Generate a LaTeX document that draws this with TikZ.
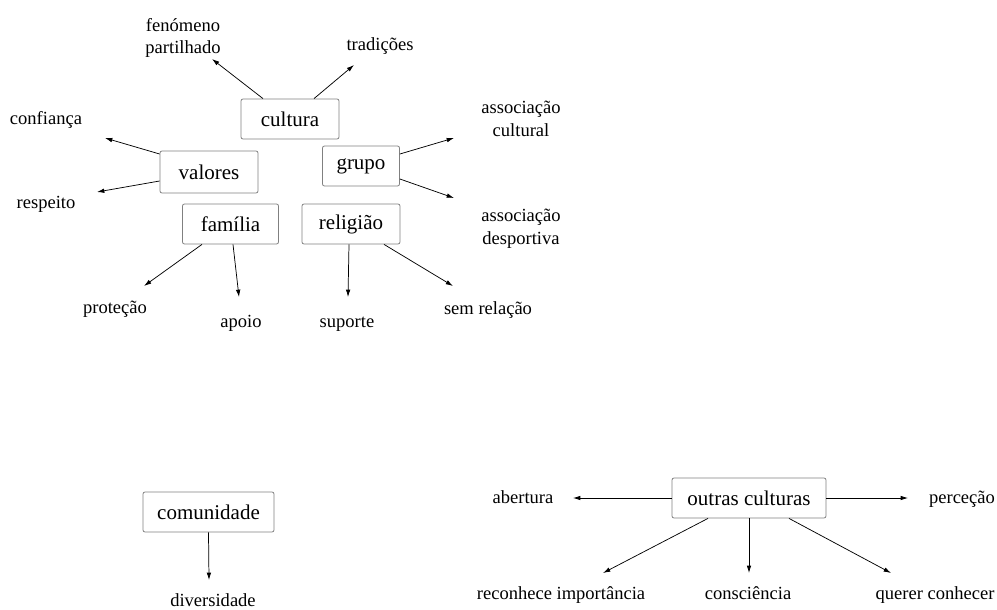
\documentclass[tikz,border=0pt]{standalone}
\usepackage{fontspec}
\setmainfont{Liberation Serif}
\usetikzlibrary{arrows.meta}

\newcommand{\boxfont}{\fontsize{15.75pt}{19pt}\selectfont}
\newcommand{\labfont}{\fontsize{13.9pt}{17pt}\selectfont}

\tikzset{
  concept/.style={draw=black!50, line width=0.6pt, rounded corners=1.5pt,
    minimum height=30pt, inner sep=0pt, font=\boxfont},
  leaf/.style={inner sep=0pt, font=\labfont, anchor=base},
  leaf2/.style={inner sep=0pt, font=\labfont, align=center, anchor=center},
  link/.style={line width=0.55pt, -{Latex[length=5.5pt,width=3.4pt]}}
}

\begin{document}
\begin{tikzpicture}[x=0.75pt, y=-0.75pt]
\useasboundingbox (0,0) rectangle (997,610);

% --- concepts (boxed) ---
\node[concept, minimum width=73.5pt] (cultura)  at (290,119) {cultura};
\node[concept, minimum width=73.5pt, minimum height=31.5pt] (valores) at (209,172) {valores};
\node[concept, minimum width=57.75pt] (grupo)   at (361,166) {grupo};
\node[concept, minimum width=72pt]   (familia)  at (230.5,224) {família};
\node[concept, minimum width=73.5pt] (religiao) at (351,224) {religião};
\node[concept, minimum width=98.25pt] (comunidade) at (208.5,512) {comunidade};
\node[concept, minimum width=115.5pt] (outras)  at (749,498) {outras culturas};

% --- associated words ---
\node[leaf2] (fenomeno)   at (183,38)  {fenómeno\\partilhado};
\node[leaf]  (tradicoes)  at (380,51)  {tradições};
\node[leaf]  (confianca)  at (46,125)  {confiança};
\node[leaf]  (respeito)   at (46,208)  {respeito};
\node[leaf2] (asscult)    at (521,119) {associação\\cultural};
\node[leaf2] (assdesp)    at (521,229) {associação\\desportiva};
\node[leaf]  (protecao)   at (115,313) {proteção};
\node[leaf]  (apoio)      at (241,327) {apoio};
\node[leaf]  (suporte)    at (347,327) {suporte};
\node[leaf]  (semrel)     at (488,314) {sem relação};
\node[leaf]  (diversidade) at (213,606) {diversidade};
\node[leaf]  (abertura)   at (523,503) {abertura};
\node[leaf]  (percecao)   at (962,503) {perceção};
\node[leaf]  (reconhece)  at (561,599) {reconhece importância};
\node[leaf]  (consciencia) at (748,599) {consciência};
\node[leaf]  (querer)     at (935,599) {querer conhecer};

% --- arrow tips, just short of each word ---
\coordinate (tFen)  at (212,59);
\coordinate (tTrad) at (354,65);
\coordinate (tConf) at (105,138);
\coordinate (tResp) at (97,192);
\coordinate (tAC)   at (454,138);
\coordinate (tAD)   at (454,198);
\coordinate (tProt) at (144,286);
\coordinate (tApoi) at (239,297);
\coordinate (tSup)  at (348,297);
\coordinate (tSem)  at (453,286);
\coordinate (tDiv)  at (209,580);
\coordinate (tAbe)  at (573,498);
\coordinate (tPer)  at (908,498);
\coordinate (tRec)  at (603,573);
\coordinate (tCon)  at (749,573);
\coordinate (tQue)  at (891,573);

% --- connectors ---
\draw[link] ([shift={(-27,0)}]cultura.north) -- (tFen);
\draw[link] ([shift={(24,0)}]cultura.north)  -- (tTrad);
\draw[link] ([shift={(0,-18)}]valores.west)  -- (tConf);
\draw[link] ([shift={(0,9)}]valores.west)    -- (tResp);
\draw[link] ([shift={(0,-12)}]grupo.east)    -- (tAC);
\draw[link] ([shift={(0,13)}]grupo.east)     -- (tAD);
\draw[link] ([shift={(-28.5,0)}]familia.south) -- (tProt);
\draw[link] ([shift={(2.5,0)}]familia.south)   -- (tApoi);
\draw[link] ([shift={(-2,0)}]religiao.south)   -- (tSup);
\draw[link] ([shift={(33,0)}]religiao.south)   -- (tSem);
\draw[link] (comunidade.south) -- (tDiv);
\draw[link] (outras.west) -- (tAbe);
\draw[link] (outras.east) -- (tPer);
\draw[link] ([shift={(-41,0)}]outras.south) -- (tRec);
\draw[link] (outras.south) -- (tCon);
\draw[link] ([shift={(40,0)}]outras.south) -- (tQue);
\end{tikzpicture}
\end{document}
